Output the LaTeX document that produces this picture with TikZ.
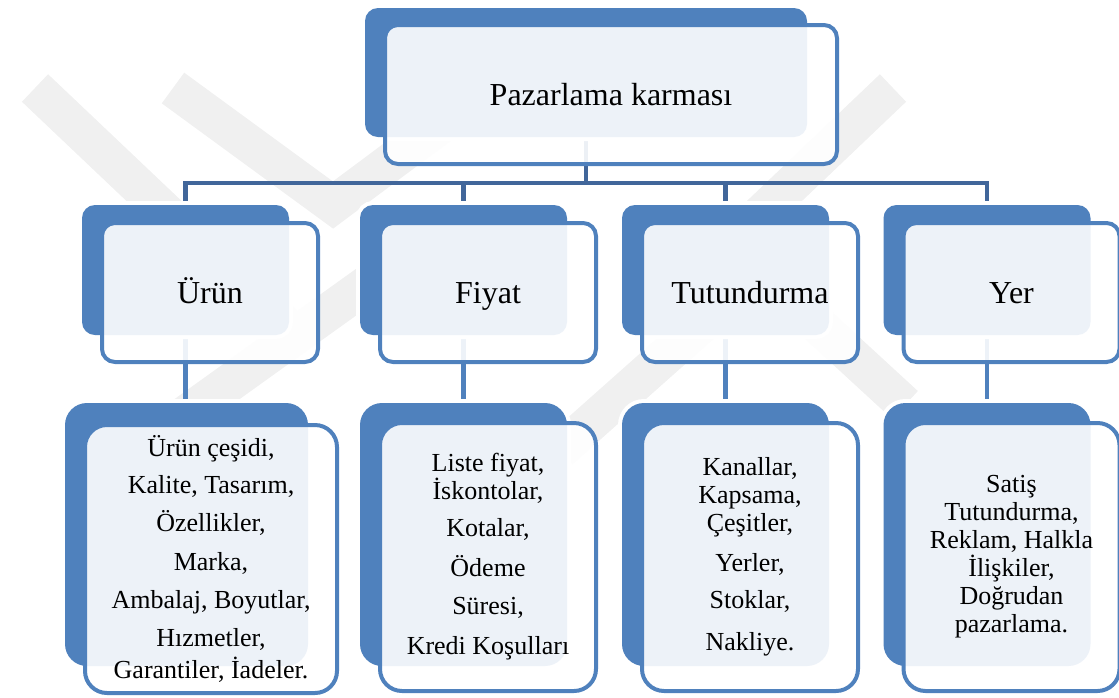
\documentclass[tikz,border=0pt]{standalone}
\usepackage{fontspec}
\setmainfont{Liberation Serif}
\usetikzlibrary{backgrounds}
\definecolor{cardblue}{HTML}{4F81BD}
\definecolor{linkblue}{HTML}{41669A}
\definecolor{markgray}{HTML}{F0F0F0}
\tikzset{
  backcard/.style={fill=cardblue, preaction={draw=white, line width=8pt},
    rounded corners=13pt, inner sep=0pt},
  frontcard/.style={fill=white, fill opacity=0.9, text opacity=1, draw=cardblue,
    draw opacity=1, line width=4pt, rounded corners=13pt, inner sep=0pt, align=center},
  bigtext/.style={font=\fontsize{32}{38}\selectfont, text height=28pt, text depth=7pt},
  listtext/.style={font=\fontsize{26}{28}\selectfont, rounded corners=22pt},
  link/.style={draw=linkblue, line width=4.5pt},
  sublink/.style={draw=cardblue, line width=4.5pt},
  wmark/.style={draw=markgray, line width=38pt}
}
\begin{document}
\begin{tikzpicture}[x=1pt,y=-1pt]
    \useasboundingbox (0,0) rectangle (1119,697);

    % top
    \node[backcard, minimum width=442pt, minimum height=129pt] (topb) at (586,72.5) {};
    \node[frontcard, bigtext, minimum width=452pt, minimum height=139pt] (top) at (611,94.5) {Pazarlama karması};

    % second row
    \node[backcard, minimum width=207pt, minimum height=130pt] (urunb) at (185.5,270) {};
    \node[backcard, minimum width=207pt, minimum height=130pt] (fiyatb) at (463.5,270) {};
    \node[backcard, minimum width=207pt, minimum height=130pt] (tutb) at (725.5,270) {};
    \node[backcard, minimum width=207pt, minimum height=130pt] (yerb) at (987,270) {};
    \node[frontcard, bigtext, minimum width=216pt, minimum height=139pt] (urun) at (210,292.5) {Ürün};
    \node[frontcard, bigtext, minimum width=216pt, minimum height=139pt] (fiyat) at (488,292.5) {Fiyat};
    \node[frontcard, bigtext, minimum width=216pt, minimum height=139pt] (tut) at (750,292.5) {Tutundurma};
    \node[frontcard, bigtext, minimum width=216pt, minimum height=139pt] (yer) at (1011.5,292.5) {Yer};

    % third row
    \node[backcard, rounded corners=22pt, minimum width=243pt, minimum height=263pt] (urunl) at (186.5,534.5) {};
    \node[backcard, rounded corners=22pt, minimum width=207pt, minimum height=263pt] (fiyatl) at (463.5,534.5) {};
    \node[backcard, rounded corners=22pt, minimum width=207pt, minimum height=263pt] (tutl) at (725.5,534.5) {};
    \node[backcard, rounded corners=22pt, minimum width=207pt, minimum height=263pt] (yerl) at (987,534.5) {};
    \node[frontcard, listtext, minimum width=252pt, minimum height=268pt] (urunt) at (211,559)
      {Ürün çeşidi,\\[9pt] Kalite, Tasarım,\\[10pt] Özellikler,\\[11pt] Marka,\\[10pt]
       Ambalaj, Boyutlar,\\[10pt] Hızmetler,\\[4pt] Garantiler, İadeler.};
    \node[frontcard, listtext, minimum width=216pt, minimum height=268pt] (fiyatt) at (488,557)
      {Liste fiyat,\\ İskontolar,\\[9pt] Kotalar,\\[12pt] Ödeme\\[10pt] Süresi,\\[12pt] Kredi Koşulları};
    \node[frontcard, listtext, minimum width=216pt, minimum height=268pt] (tutt) at (750,557)
      {Kanallar,\\ Kapsama,\\ Çeşitler,\\[12pt] Yerler,\\[9pt] Stoklar,\\[14pt] Nakliye.};
    \node[frontcard, listtext, minimum width=216pt, minimum height=268pt] (yert) at (1011.5,557)
      {Satiş\\ Tutundurma,\\ Reklam, Halkla\\ İlişkiler,\\ Doğrudan\\ pazarlama.};

    \begin{pgfonlayer}{background}
      % watermark
      \draw[wmark] (35,88) -- (290,330);
      \draw[wmark] (173,88) -- (333,205) -- (490,88);
      \draw[wmark] (150,440) -- (440,232);
      \draw[wmark] (893,88) -- (660,310);
      \draw[wmark] (780,290) -- (905,405);
      \draw[wmark] (560,450) -- (740,290);

      % connectors
      \coordinate (bar) at (586,183);
      \draw[link] (topb.south) -- (bar);
      \foreach \n in {urunb,fiyatb,tutb,yerb}
        \draw[link] (bar) -| (\n.north);
      \draw[sublink] (urunb.south) -- (urunb.south |- urunl.north);
      \draw[sublink] (fiyatb.south) -- (fiyatl.north);
      \draw[sublink] (tutb.south) -- (tutl.north);
      \draw[sublink] (yerb.south) -- (yerl.north);
    \end{pgfonlayer}
\end{tikzpicture}
\end{document}
